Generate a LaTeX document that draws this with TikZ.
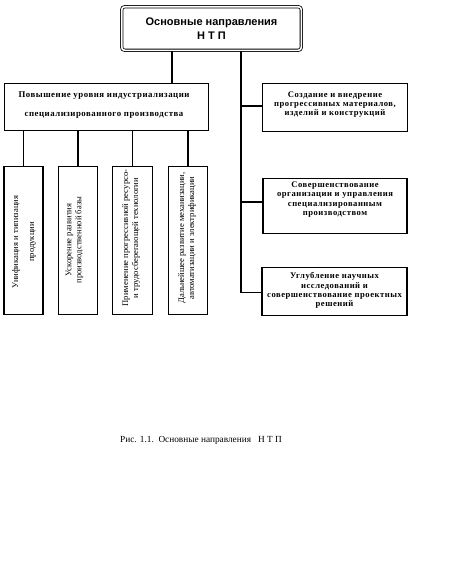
\documentclass[tikz,border=0pt]{standalone}
\usepackage{fontspec}
\setmainfont{Liberation Serif}
\newfontfamily\titlefont{Liberation Sans}
\newfontfamily\boxfont[LetterSpace=6]{Liberation Serif}
\begin{document}
\begin{tikzpicture}[x=1pt,y=-1pt,
  frame/.style={draw, line width=1.2pt, inner sep=0pt},
  conn/.style={line width=1.2pt},
  rtxt/.style={align=center, inner sep=0pt, font=\boxfont\bfseries\fontsize{8.6}{9.3}\selectfont},
  vtxt/.style={align=center, inner sep=0pt, rotate=90, font=\fontsize{8.6}{10}\selectfont},
  titlebox/.style={draw, double, line width=0.8pt, double distance=1.6pt, rounded corners=3pt,
    outer sep=auto, inner sep=0pt, align=center,
    font=\titlefont\bfseries\fontsize{11}{14}\selectfont}
]
\useasboundingbox (0,0) rectangle (473,576);
\fill[white] (0,0) rectangle (473,576);

% title
\node[titlebox, minimum width=179.6pt, minimum height=43.6pt] (top) at (211.5,28.5)
  {Основные направления\\Н Т П};

% level 2 left
\node[frame, minimum width=204pt, minimum height=47pt] (L) at (106.5,107) {};
\node[rtxt, font=\boxfont\bfseries\fontsize{8.8}{9.3}\selectfont] (Ltext) at (104,105)
  {Повышение уровня индустриализации\\[9pt]специализированного производства};

% right boxes
\node[frame, minimum width=145pt, minimum height=48pt] (A) at (335,107.5) {};
\node[rtxt] (Atext) at (335,104.5) {Создание и внедрение\\прогрессивных материалов,\\изделий и конструкций};
\node[frame, minimum width=144pt, minimum height=55pt] (B) at (335,206) {};
\node[rtxt] (Btext) at (335,199.5) {Совершенствование\\организации и управления\\специализированным\\производством};
\node[frame, minimum width=145pt, minimum height=48pt] (C) at (334.5,291.5) {};
\node[rtxt] (Ctext) at (334.5,290.5) {Углубление научных\\исследований и\\совершенствование проектных\\решений};

% small vertical boxes
\node[frame, minimum width=39pt, minimum height=148pt] (s1) at (23.5,240.5) {};
\node[vtxt] (s1text) at (24,242) {Унификация и типизация\\[6pt]продукции};
\node[frame, minimum width=39pt, minimum height=148pt] (s2) at (78,240.5) {};
\node[vtxt] (s2text) at (74.5,240) {Ускорение развития\\производственной базы};
\node[frame, minimum width=40pt, minimum height=148pt] (s3) at (132.5,240.5) {};
\node[vtxt] (s3text) at (131,238) {Применение прогрессивной ресурсо-\\и трудосберегающей технологии};
\node[frame, minimum width=39pt, minimum height=148pt] (s4) at (188,240.5) {};
\node[vtxt] (s4text) at (187,238) {Дальнейшее развитие механизации,\\автоматизации и электрификации};

% connectors
\coordinate (lx) at (172,83);
\coordinate (tr) at (241,292.5);
\coordinate (bA) at (241,106);
\coordinate (bB) at (241,202);
\draw[conn] (lx |- top.south) -- (L.north -| lx);
\draw[conn] (tr |- top.south) -- (tr);
\draw[conn] (bA) -- (bA -| A.west);
\draw[conn] (bB) -- (bB -| B.west);
\draw[conn] (tr) -- (tr -| C.west);
\draw[conn] (s1.north) -- (s1.north |- L.south);
\draw[conn] (s2.north) -- (s2.north |- L.south);
\draw[conn] (s3.north) -- (s3.north |- L.south);
\draw[conn] (s4.north) -- (s4.north |- L.south);

% caption
\node[font=\fontsize{9.3}{11}\selectfont, inner sep=0pt] (cap) at (201,440)
  {Рис. 1.1.\ \ Основные направления\ \ \ Н Т П};
\end{tikzpicture}
\end{document}
